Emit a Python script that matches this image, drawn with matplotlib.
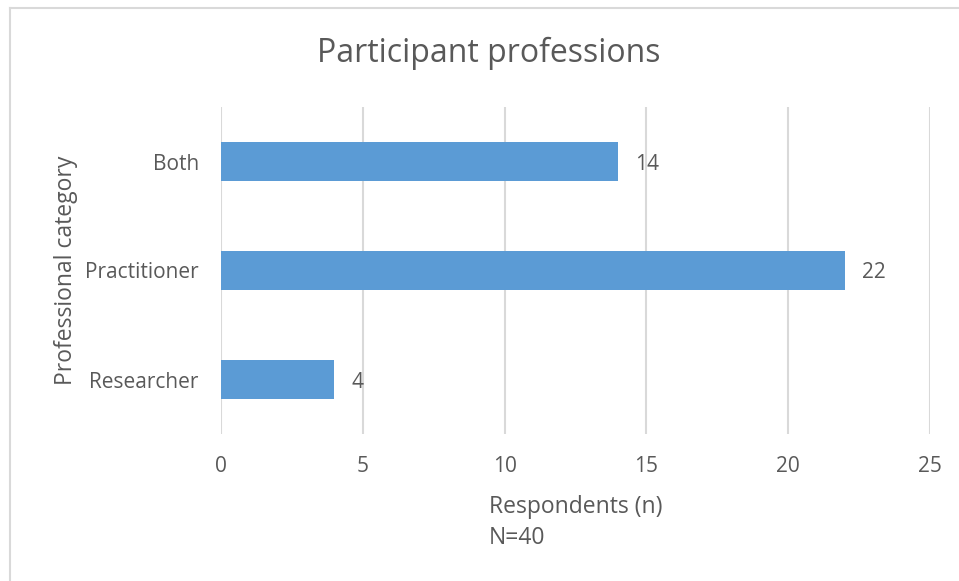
import matplotlib.pyplot as plt
from matplotlib.lines import Line2D

plt.rcParams["font.family"] = ["Open Sans", "DejaVu Sans"]

# Data
categories = ["Researcher", "Practitioner", "Both"]
counts = [4, 22, 14]
x_ticks = [0, 5, 10, 15, 20, 25]

txt = "#595959"
bar_col = "#5B9BD5"
grid_col = "#D9D9D9"

fig = plt.figure(figsize=(9.59, 5.81), dpi=100)
ax = fig.add_axes([221 / 959, 1 - 434 / 581, (930 - 221) / 959, (434 - 107) / 581])

ypos = range(len(categories))
ax.barh(ypos, counts, height=0.35, color=bar_col, zorder=3)
for y, v in zip(ypos, counts):
    ax.annotate(str(v), (v, y), xytext=(12, 0), textcoords="offset points",
                va="center_baseline", ha="left", fontsize=15, color=txt)

ax.set_xlim(0, 25)
ax.set_ylim(-0.5, 2.5)
ax.set_xticks(x_ticks)
ax.set_yticks(list(ypos))
ax.set_yticklabels(categories)
ax.tick_params(length=0, labelsize=15, colors=txt)
ax.tick_params(axis="x", pad=16)
ax.tick_params(axis="y", pad=16)
ax.grid(axis="x", color=grid_col, linewidth=1.5, zorder=0)
for s in ax.spines.values():
    s.set_visible(False)

ax.set_xlabel("Respondents (n)\nN=40", fontsize=16.5, color=txt, labelpad=13,
              multialignment="left", linespacing=1.35)
ax.set_ylabel("Professional category", fontsize=16.5, color=txt, labelpad=5)
fig.text(489 / 959, 1 - 53 / 581, "Participant professions", ha="center", va="center",
         fontsize=23, color=txt)

# chart border (left and top edges visible)
fig.add_artist(Line2D([10 / 959, 10 / 959], [0, 1 - 8 / 581], transform=fig.transFigure,
                      color=grid_col, linewidth=1.5))
fig.add_artist(Line2D([10 / 959, 1], [1 - 8 / 581, 1 - 8 / 581], transform=fig.transFigure,
                      color=grid_col, linewidth=1.5))

fig.savefig("out.png", dpi=100)
